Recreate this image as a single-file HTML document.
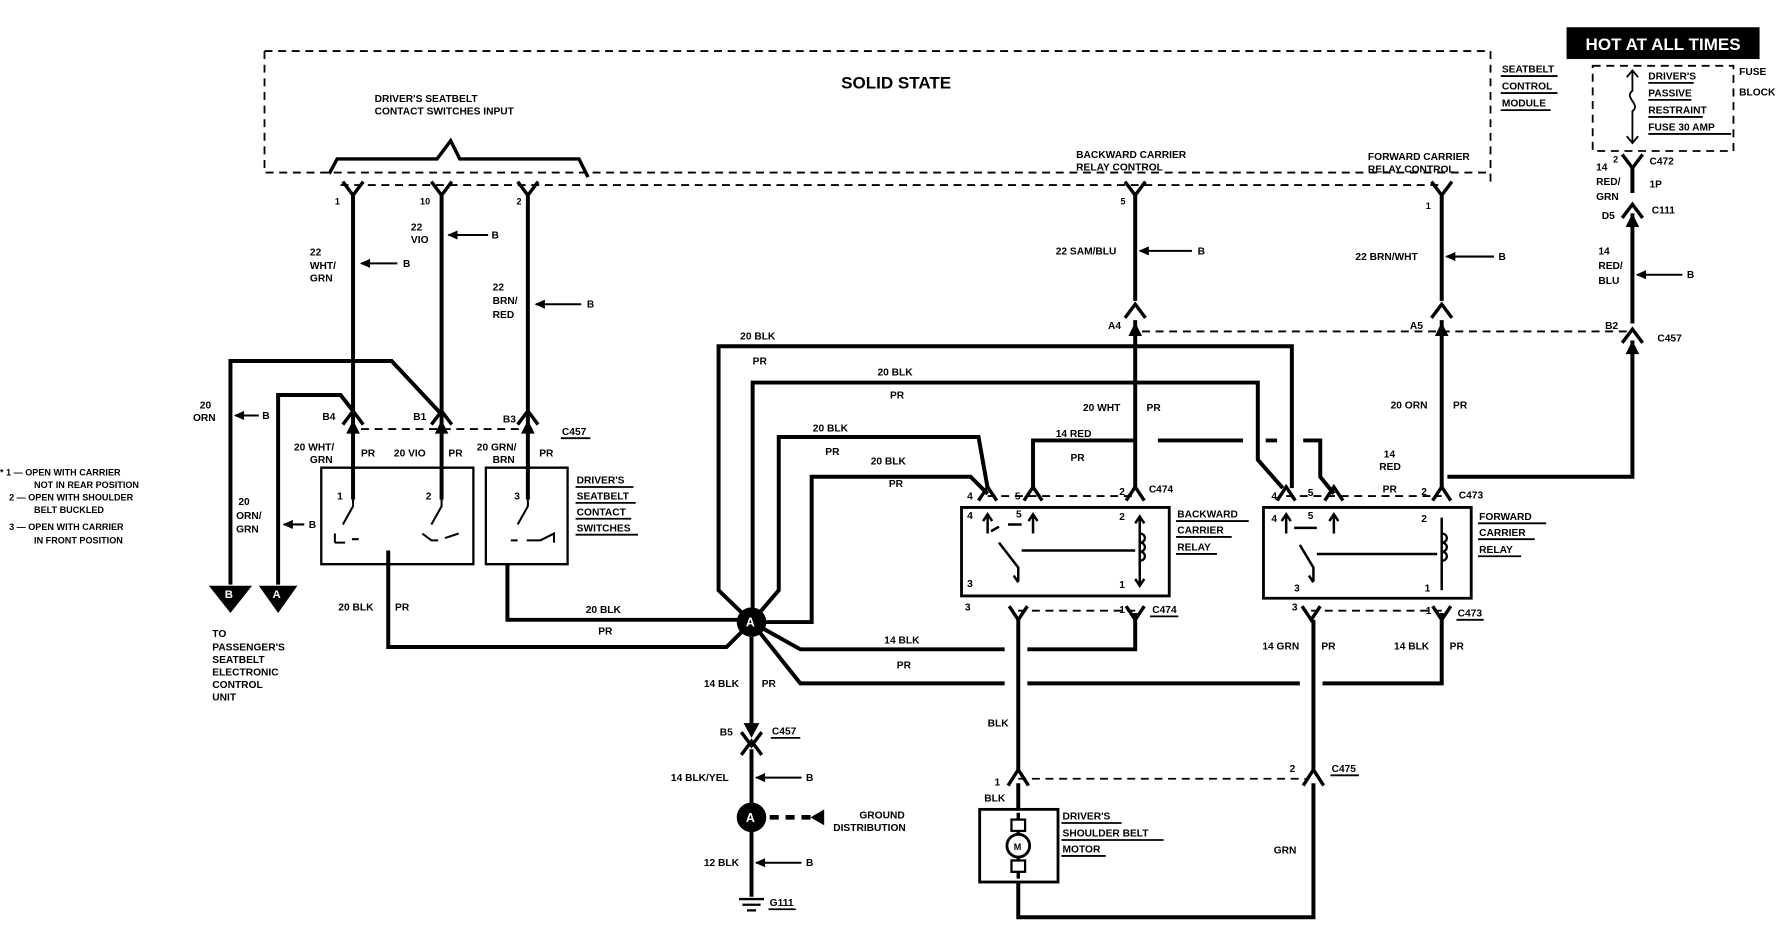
<!DOCTYPE html>
<html><head><meta charset="utf-8"><style>
html,body{margin:0;padding:0;background:#fff;}
svg{display:block;}
text{font-family:"Liberation Sans",sans-serif;font-weight:bold;font-size:9px;fill:#000;}
.w{stroke:#000;stroke-width:3.5;fill:none;stroke-linejoin:miter;}
.t{stroke:#000;stroke-width:1.6;fill:none;}
.d{stroke:#000;stroke-width:1.6;fill:none;stroke-dasharray:7,5;}
.dt{stroke:#000;stroke-width:2.5;fill:none;stroke-dasharray:8,6;}
.c{stroke:#000;stroke-width:3;fill:none;}
</style></head><body>
<svg width="1780" height="928" viewBox="0 0 1568 817.5" preserveAspectRatio="none" xmlns="http://www.w3.org/2000/svg">
<rect x="0" y="0" width="1568" height="817.5" fill="#fff"/>
<!-- module box -->
<path class="d" d="M233 45 H1313 V160 M233 45 V152 H1310"/>
<path class="w" d="M290 153 L297 140 H385 L397 124 L405 140 H510 L518 156" style="stroke-width:3"/>
<text x="741" y="78" style="font-size:15px">SOLID STATE</text>
<text x="330" y="90">DRIVER'S SEATBELT</text>
<text x="330" y="101">CONTACT SWITCHES INPUT</text>
<text x="948" y="139">BACKWARD CARRIER</text>
<text x="948" y="150">RELAY CONTROL</text>
<text x="1205" y="141">FORWARD CARRIER</text>
<text x="1205" y="152">RELAY CONTROL</text>
<text x="1323" y="64">SEATBELT</text><text x="1323" y="79">CONTROL</text><text x="1323" y="94">MODULE</text>
<path class="t" d="M1322 67 H1372 M1322 82 H1372 M1322 97 H1366"/>
<path class="d" d="M300 163 H1270"/>
<!-- hot at all times -->
<rect x="1380" y="24" width="170" height="28" fill="#000"/>
<text x="1465" y="44" text-anchor="middle" style="font-size:15px;fill:#fff">HOT AT ALL TIMES</text>
<path class="d" d="M1403 58 H1527 V133 H1403 Z"/>
<text x="1532" y="66">FUSE</text><text x="1532" y="84">BLOCK</text>
<text x="1452" y="70">DRIVER'S</text><text x="1452" y="85">PASSIVE</text><text x="1452" y="100">RESTRAINT</text><text x="1452" y="115">FUSE 30 AMP</text>
<path class="t" d="M1452 73 H1492 M1452 88 H1490 M1452 103 H1500 M1452 118 H1525"/>
<path class="t" d="M1438 62 V80 C1430 86 1446 92 1438 98 V126 M1433 68 L1438 62 L1443 68 M1433 120 L1438 126 L1443 120"/>
<!-- top chevrons (Y shape) -->
<g class="c">
<path d="M302 160 L311 172 L320 160"/><path d="M380 160 L389 172 L398 160"/><path d="M456 160 L465 172 L474 160"/>
<path d="M991 160 L1000 172 L1009 160"/><path d="M1261 160 L1270 172 L1279 160"/>
<path d="M1429 136 L1438 148 L1447 136"/>
</g>
<!-- vertical wires -->
<path class="w" d="M311 170 V440 M389 170 V440 M465 170 V440"/>
<path class="w" d="M1000 170 V265 M1000 282 V430 M1270 170 V265 M1270 282 V430 M1438 148 V170 M1438 188 V285 M1438 300 V420 H1275"/>
<g class="c">
<path d="M991 280 L1000 268 L1009 280"/><path d="M1261 280 L1270 268 L1279 280"/><path d="M1429 302 L1438 290 L1447 302"/>
<path d="M1429 192 L1438 180 L1447 192"/>
<path d="M302 374 L311 362 L320 374"/><path d="M380 374 L389 362 L398 374"/><path d="M456 374 L465 362 L474 374"/>
</g>
<path d="M994 296 L1000 284 L1006 296 Z M1264 296 L1270 284 L1276 296 Z M1432 312 L1438 300 L1444 312 Z M1432 200 L1438 188 L1444 200 Z M305 382 L311 370 L317 382 Z M383 382 L389 370 L395 382 Z M459 382 L465 370 L471 382 Z" fill="#000"/>
<path class="d" d="M1006 292 H1438"/>
<path class="d" d="M318 378 H470"/>
<text x="295" y="180" style="font-size:8px">1</text><text x="370" y="180" style="font-size:8px">10</text><text x="455" y="180" style="font-size:8px">2</text>
<text x="987" y="180" style="font-size:8px">5</text><text x="1256" y="184" style="font-size:8px">1</text>
<text x="1421" y="143" style="font-size:8px">2</text><text x="1453" y="145">C472</text><text x="1453" y="165">1P</text>
<text x="1406" y="150">14</text><text x="1406" y="163">RED/</text><text x="1406" y="176">GRN</text>
<text x="1411" y="193">D5</text><text x="1455" y="188">C111</text>
<text x="1408" y="224">14</text><text x="1408" y="237">RED/</text><text x="1408" y="250">BLU</text>
<text x="1414" y="290">B2</text><text x="1460" y="301">C457</text>
<text x="976" y="290">A4</text><text x="1242" y="290">A5</text>
<!-- B arrows -->
<g class="t" style="stroke-width:1.8">
<path d="M318 232 H350 M395 207 H430 M472 268 H512 M1004 221 H1050 M1274 226 H1316 M1442 242 H1482 M207 366 H228 M250 462 H268 M666 685 H706 M666 760 H706"/>
</g>
<path d="M317 232 L326 228 L326 236 Z M394 207 L403 203 L403 211 Z M471 268 L480 264 L480 272 Z M1003 221 L1012 217 L1012 225 Z M1273 226 L1282 222 L1282 230 Z M1441 242 L1450 238 L1450 246 Z M206 366 L215 362 L215 370 Z M249 462 L258 458 L258 466 Z M665 685 L674 681 L674 689 Z M665 760 L674 756 L674 764 Z" fill="#000"/>
<text x="355" y="235">B</text><text x="433" y="210">B</text><text x="517" y="271">B</text><text x="1055" y="224">B</text><text x="1320" y="229">B</text><text x="1486" y="245">B</text><text x="231" y="369">B</text><text x="272" y="465">B</text><text x="710" y="688">B</text><text x="710" y="763">B</text>
<text x="273" y="225">22</text><text x="273" y="237">WHT/</text><text x="273" y="248">GRN</text>
<text x="362" y="203">22</text><text x="362" y="214">VIO</text>
<text x="434" y="256">22</text><text x="434" y="268">BRN/</text><text x="434" y="280">RED</text>
<text x="930" y="224">22 SAM/BLU</text><text x="1194" y="229">22 BRN/WHT</text>
<!-- left wires -->
<path class="w" d="M203 515 V318 H345 L389 365 M245 515 V348 H300 L311 362"/>
<path d="M184 516 H222 L203 540 Z M228 516 H262 L245 540 Z" fill="#000"/>
<text x="198" y="527" style="fill:#fff;font-size:10px">B</text><text x="240" y="527" style="fill:#fff;font-size:10px">A</text>
<text x="176" y="360">20</text><text x="170" y="371">ORN</text>
<text x="210" y="445">20</text><text x="208" y="457">ORN/</text><text x="208" y="469">GRN</text>
<text x="187" y="561">TO</text><text x="187" y="573">PASSENGER'S</text><text x="187" y="584">SEATBELT</text><text x="187" y="595">ELECTRONIC</text><text x="187" y="606">CONTROL</text><text x="187" y="617">UNIT</text>
<text x="0" y="419" style="font-size:8px">* 1 — OPEN WITH CARRIER</text><text x="30" y="430" style="font-size:8px">NOT IN REAR POSITION</text>
<text x="8" y="441" style="font-size:8px">2 — OPEN WITH SHOULDER</text><text x="30" y="452" style="font-size:8px">BELT BUCKLED</text>
<text x="8" y="467" style="font-size:8px">3 — OPEN WITH CARRIER</text><text x="30" y="479" style="font-size:8px">IN FRONT POSITION</text>
<text x="284" y="370">B4</text><text x="364" y="370">B1</text><text x="443" y="372">B3</text><text x="495" y="383">C457</text>
<path class="t" d="M494 386 H520"/>
<text x="259" y="397">20 WHT/</text><text x="273" y="408">GRN</text><text x="318" y="402">PR</text>
<text x="347" y="402">20 VIO</text><text x="395" y="402">PR</text>
<text x="420" y="397">20 GRN/</text><text x="434" y="408">BRN</text><text x="475" y="402">PR</text>
<!-- switch boxes -->
<path class="t" d="M283 412 H417 V497 H283 Z M428 412 H500 V497 H428 Z" style="stroke-width:2"/>
<path class="t" d="M311 428 V446 L302 462 M389 428 V446 L380 462 M465 428 V446 L456 462 M295 478 V470 M295 478 H304 M310 475 H316 M372 470 L380 476 H386 M392 474 L404 470 M450 476 H456 M464 476 H476 L488 470 V478" style="stroke-width:1.8"/>
<text x="297" y="440">1</text><text x="375" y="440">2</text><text x="453" y="440">3</text>
<text x="508" y="426">DRIVER'S</text><text x="508" y="440">SEATBELT</text><text x="508" y="454">CONTACT</text><text x="508" y="468">SWITCHES</text>
<path class="t" d="M507 429 H558 M507 443 H560 M507 457 H556 M507 471 H562"/>
<path class="w" d="M342 485 V570 H640 L662 548 M447 497 V546 H650"/>
<text x="298" y="538">20 BLK</text><text x="348" y="538">PR</text>
<text x="516" y="540">20 BLK</text><text x="527" y="559">PR</text>
<!-- node A lines -->
<path class="w" d="M662 548 L633 520 V305 H1138 V430 M662 548 L663 535 V337 H1108 V405 L1130 430 M662 548 L686 520 V385 H862 L870 430 M662 548 H715 V420 H855 L870 435"/>
<path class="w" d="M662 548 L705 572 H885 M905 572 H1000 V540 M662 548 L705 602 H885 M905 602 H1145 M1165 602 H1270 V540"/>
<path class="w" d="M910 432 V388 H1000 M1020 388 H1095 M1115 388 H1125 M1148 388 H1163 V420 L1175 435"/>
<text x="652" y="299">20 BLK</text><text x="663" y="321">PR</text>
<text x="773" y="331">20 BLK</text><text x="784" y="351">PR</text>
<text x="716" y="380">20 BLK</text><text x="727" y="401">PR</text>
<text x="767" y="409">20 BLK</text><text x="783" y="429">PR</text>
<text x="930" y="385">14 RED</text><text x="943" y="406">PR</text>
<text x="954" y="362">20 WHT</text><text x="1010" y="362">PR</text>
<text x="1225" y="360">20 ORN</text><text x="1280" y="360">PR</text>
<text x="1219" y="403">14</text><text x="1215" y="414">RED</text><text x="1218" y="434">PR</text>
<text x="779" y="567">14 BLK</text><text x="790" y="589">PR</text>
<text x="620" y="605">14 BLK</text><text x="671" y="605">PR</text>
<circle cx="662" cy="548" r="13" fill="#000"/>
<text x="657" y="552" style="fill:#fff;font-size:11px">A</text>
<path class="w" d="M662 561 V640 M662 660 V708 M662 732 V790"/>
<path class="c" d="M653 645 L662 657 L671 645 M653 665 L662 653 L671 665"/>
<path d="M655 637 L662 650 L669 637 Z" fill="#000"/>
<text x="634" y="648">B5</text><text x="680" y="647">C457</text><path class="t" d="M679 650 H705"/>
<text x="591" y="688">14 BLK/YEL</text><text x="620" y="763">12 BLK</text>
<circle cx="662" cy="720" r="13" fill="#000"/>
<text x="657" y="724" style="fill:#fff;font-size:11px">A</text>
<path class="dt" d="M678 720 H718" style="stroke-width:4"/>
<path d="M714 720 L726 713 V727 Z" fill="#000"/>
<text x="757" y="721">GROUND</text><text x="734" y="732">DISTRIBUTION</text>
<path class="t" d="M651 792 H673 M654 797 H670 M658 802 H666" style="stroke-width:2"/>
<text x="678" y="798">G111</text><path class="t" d="M677 801 H701"/>
<!-- relays -->
<path class="t" d="M847 447 H1030 V525 H847 Z M1113 447 H1296 V527 H1113 Z" style="stroke-width:2.5"/>
<g class="c">
<path d="M862 441 L870 429 L878 441"/><path d="M902 441 L910 429 L918 441"/><path d="M992 441 L1000 429 L1008 441"/>
<path d="M1125 441 L1133 429 L1141 441"/><path d="M1167 441 L1175 429 L1183 441"/><path d="M1262 441 L1270 429 L1278 441"/>
<path d="M889 534 L897 546 L905 534"/><path d="M992 534 L1000 546 L1008 534"/>
<path d="M1147 534 L1155 546 L1163 534"/><path d="M1262 534 L1270 546 L1278 534"/>
<path d="M888 692 L897 678 L906 692"/><path d="M1148 692 L1157 678 L1166 692"/>
</g>
<path class="d" d="M870 437 H1000 M1133 437 H1270 M897 538 H1000 M1155 538 H1270 M897 686 H1150"/>
<path class="w" d="M897 546 V680 M897 690 V713 M897 777 V808 H1157 V690 M1157 680 V546"/>
<path class="t" d="M870 470 V454 M866 459 L870 453 L874 459 M910 470 V454 M906 459 L910 453 L914 459 M873 468 L880 464 M888 462 H900 M880 478 L897 500 V512 M893 507 L897 513 M900 485 H1000 M1004 456 V515 M1000 461 L1004 455 L1008 461 M1000 510 L1004 516 L1008 510 M1133 470 V454 M1129 459 L1133 453 L1137 459 M1175 470 V454 M1171 459 L1175 453 L1179 459 M1140 465 H1160 M1145 480 L1157 500 V512 M1153 507 L1157 513 M1160 488 H1266 M1270 456 V520" style="stroke-width:2.2"/>
<path class="t" d="M1004 470 c6 0 6 8 0 8 c6 0 6 8 0 8 c6 0 6 8 0 8 M1270 470 c6 0 6 8 0 8 c6 0 6 8 0 8 c6 0 6 8 0 8" style="stroke-width:2"/>
<text x="852" y="440">4</text><text x="894" y="440">5</text><text x="986" y="436">2</text><text x="1012" y="434">C474</text>
<text x="852" y="457">4</text><text x="895" y="456">5</text><text x="986" y="458">2</text><text x="852" y="517">3</text><text x="986" y="518">1</text>
<text x="850" y="538">3</text><text x="986" y="540">1</text><text x="1015" y="540">C474</text><path class="t" d="M1013 543 H1038"/>
<text x="1120" y="440">4</text><text x="1152" y="437">5</text><text x="1252" y="436">2</text><text x="1285" y="439">C473</text>
<text x="1120" y="460">4</text><text x="1152" y="457">5</text><text x="1252" y="460">2</text><text x="1140" y="521">3</text><text x="1255" y="521">1</text>
<text x="1138" y="538">3</text><text x="1256" y="541">1</text><text x="1284" y="543">C473</text><path class="t" d="M1283 546 H1307"/>
<text x="1037" y="456">BACKWARD</text><text x="1037" y="470">CARRIER</text><text x="1037" y="485">RELAY</text>
<path class="t" d="M1036 459 H1100 M1036 473 H1085 M1036 488 H1072"/>
<text x="1303" y="458">FORWARD</text><text x="1303" y="472">CARRIER</text><text x="1303" y="487">RELAY</text>
<path class="t" d="M1302 461 H1362 M1302 475 H1352 M1302 490 H1340"/>
<text x="1112" y="572">14 GRN</text><text x="1164" y="572">PR</text>
<text x="1228" y="572">14 BLK</text><text x="1277" y="572">PR</text>
<text x="870" y="640">BLK</text><text x="876" y="692">1</text><text x="867" y="706">BLK</text>
<text x="1136" y="680">2</text><text x="1173" y="680">C475</text><path class="t" d="M1172 683 H1197"/>
<text x="1122" y="752">GRN</text>
<!-- motor -->
<rect x="863" y="713" width="69" height="64" fill="none" stroke="#000" stroke-width="2.5"/>
<path class="t" d="M897 716 V774" style="stroke-width:3"/>
<rect x="891" y="722" width="12" height="10" fill="#fff" stroke="#000" stroke-width="2"/>
<rect x="891" y="758" width="12" height="10" fill="#fff" stroke="#000" stroke-width="2"/>
<circle cx="897" cy="745" r="10" fill="#fff" stroke="#000" stroke-width="2.5"/>
<text x="893" y="749" style="font-size:8px">M</text>
<text x="936" y="722">DRIVER'S</text><text x="936" y="737">SHOULDER BELT</text><text x="936" y="751">MOTOR</text>
<path class="t" d="M935 725 H988 M935 740 H1025 M935 754 H974"/>
</svg>
</body></html>
